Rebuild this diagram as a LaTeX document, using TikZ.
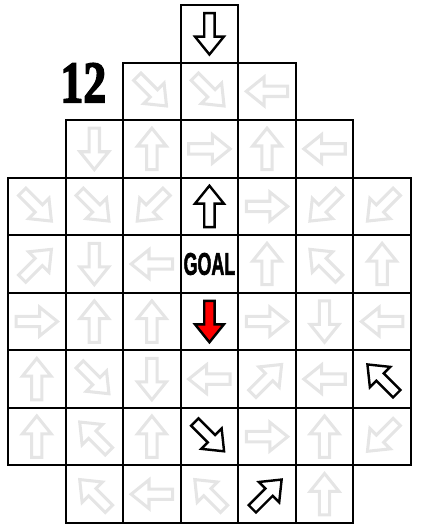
\documentclass[tikz,border=0pt]{standalone}
\usepackage{fontspec}
\newfontfamily\goalfont[FakeBold=2.5]{Liberation Sans}
\newfontfamily\levelfont[FakeBold=3]{Liberation Serif}
\usetikzlibrary{positioning}

\begin{document}
\begin{tikzpicture}[
    cell/.style={rectangle, draw=black, line width=1pt, minimum size=1cm, inner sep=0pt},
    faint/.style={draw=black!10, line width=1.5pt, fill=white},
    bold/.style={draw=black, line width=1.2pt, fill=white},
    hot/.style={draw=black, line width=1.2pt, fill=red},
    goal/.style={font=\goalfont\bfseries\fontsize{15.5}{15.5}\selectfont, xscale=0.57, inner sep=0pt},
    level/.style={font=\levelfont\bfseries\fontsize{29}{29}\selectfont, xscale=0.78, inner sep=0pt}
]
\useasboundingbox (-0.139,-0.035) rectangle (7.27,9.087);

% grid cells, row by row from the top
\foreach \r/\first/\last in {0/3/3,1/2/4,2/1/5,3/0/6,4/0/6,5/0/6,6/0/6,7/0/6,8/1/5}
  \foreach \c in {\first,...,\last}
    \node[cell] (c-\r-\c) at (\c+0.5, 8.5-\r) {};

% arrows: row/column/rotation/style
\foreach \r/\c/\a/\s in {
    0/3/180/bold,
    1/2/-135/faint, 1/3/-135/faint, 1/4/90/faint,
    2/1/180/faint, 2/2/0/faint, 2/3/-90/faint, 2/4/0/faint, 2/5/90/faint,
    3/0/-135/faint, 3/1/-135/faint, 3/2/135/faint, 3/3/0/bold, 3/4/-90/faint, 3/5/135/faint, 3/6/135/faint,
    4/0/-45/faint, 4/1/180/faint, 4/2/90/faint, 4/4/0/faint, 4/5/45/faint, 4/6/0/faint,
    5/0/-90/faint, 5/1/0/faint, 5/2/0/faint, 5/3/180/hot, 5/4/-90/faint, 5/5/180/faint, 5/6/90/faint,
    6/0/0/faint, 6/1/-135/faint, 6/2/180/faint, 6/3/90/faint, 6/4/-45/faint, 6/5/90/faint, 6/6/45/bold,
    7/0/0/faint, 7/1/45/faint, 7/2/0/faint, 7/3/-135/bold, 7/4/-90/faint, 7/5/0/faint, 7/6/135/faint,
    8/1/45/faint, 8/2/90/faint, 8/3/45/faint, 8/4/-45/bold, 8/5/0/faint}
  \draw[\s, shift={(c-\r-\c.center)}, rotate=\a]
    (-0.09,-0.36) -- (0.09,-0.36) -- (0.09,0.05) -- (0.25,0.05)
    -- (0,0.36) -- (-0.25,0.05) -- (-0.09,0.05) -- cycle;

\node[goal] (goalmark) at (c-4-3) {GOAL};
\node[level, left=0.27cm of c-1-2.west, yshift=0.15cm] (level) {12};
\end{tikzpicture}
\end{document}
